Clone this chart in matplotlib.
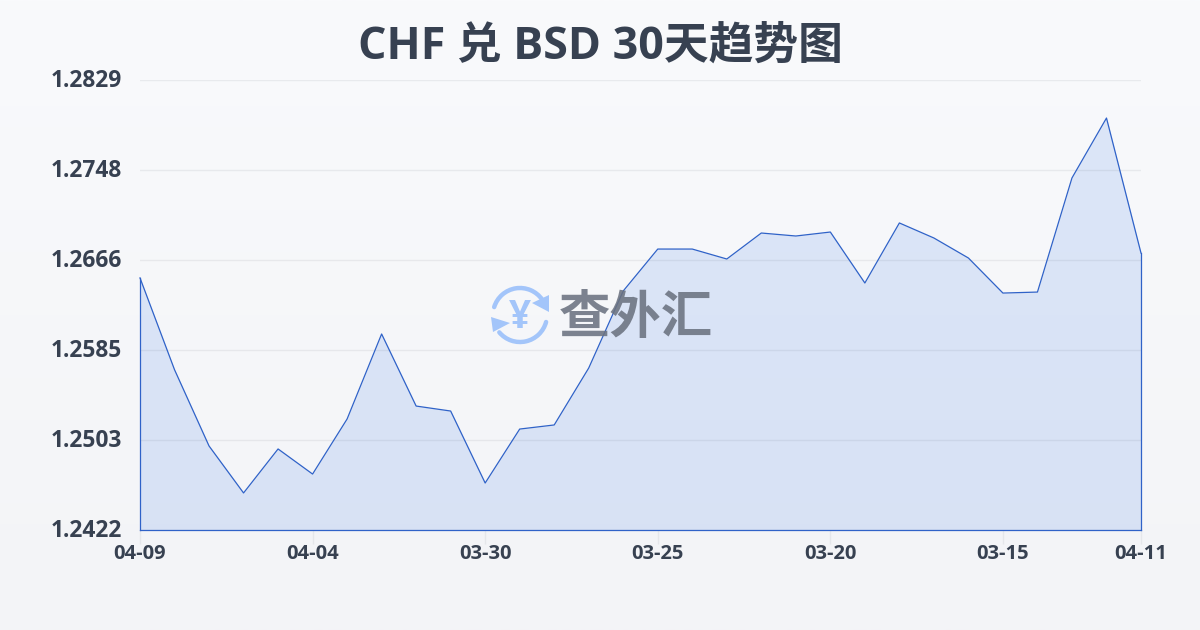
import numpy as np
import matplotlib
matplotlib.use("Agg")
import matplotlib.pyplot as plt
from matplotlib.patches import Arc, Polygon
from matplotlib.transforms import ScaledTranslation

plt.rcParams['font.family'] = ['Open Sans', 'Noto Sans CJK SC', 'DejaVu Sans']
plt.rcParams['font.weight'] = 'bold'

# datos
dias = ['04-09', '04-08', '04-07', '04-06', '04-05', '04-04', '04-03', '04-02', '04-01', '03-31',
        '03-30', '03-29', '03-28', '03-27', '03-26', '03-25', '03-24', '03-23', '03-22', '03-21',
        '03-20', '03-19', '03-18', '03-17', '03-16', '03-15', '03-14', '03-13', '03-12', '04-11']
valores = [1.26500, 1.25670, 1.24980, 1.24555, 1.24953, 1.24726, 1.25224, 1.25993, 1.25341, 1.25296,
           1.24645, 1.25133, 1.25170, 1.25685, 1.26382, 1.26761, 1.26761, 1.26671, 1.26906, 1.26879,
           1.26915, 1.26454, 1.26997, 1.26861, 1.26680, 1.26363, 1.26372, 1.27404, 1.27946, 1.26725]
y_labels = ['1.2422', '1.2503', '1.2585', '1.2666', '1.2748', '1.2829']
y_min = 1.2422
y_max = 1.2829

TEXTO = '#374151'
LINHA = '#2f62c8'

fig = plt.figure(figsize=(12, 6.3), dpi=100)

# fundo em gradiente
fundo = fig.add_axes([0, 0, 1, 1], zorder=0)
grad = np.linspace(0, 1, 256).reshape(-1, 1)
cmap_fundo = matplotlib.colors.LinearSegmentedColormap.from_list('fundo', ['#f9fafc', '#f3f4f7'])
fundo.imshow(grad, aspect='auto', cmap=cmap_fundo, extent=[0, 1, 0, 1])
fundo.axis('off')

# grafico principal
ax = fig.add_axes([140 / 1200, 1 - 530 / 630, 1001 / 1200, 450 / 630], zorder=1)
ax.patch.set_alpha(0)
x = np.arange(len(valores))
ax.set_xlim(0, len(valores) - 1)
ax.set_ylim(y_min, y_max)

ticks_y = np.linspace(y_min, y_max, len(y_labels))
ax.set_yticks(ticks_y)
ax.set_yticklabels(y_labels, fontsize=16.4, fontweight='bold', color=TEXTO)
ticks_x = list(range(0, len(dias), 5)) + [len(dias) - 1]
ax.set_xticks(ticks_x)
ax.set_xticklabels([dias[i] for i in ticks_x], fontsize=14.5, fontweight='bold', color=TEXTO)
ax.tick_params(axis='y', length=0, pad=13)
ax.tick_params(axis='x', length=10, width=1, color='#e5e7eb', pad=0)
# sobe os rotulos do eixo y 2 px
sobe = ScaledTranslation(0, 2 / 100, fig.dpi_scale_trans)
for lab in ax.get_yticklabels():
    lab.set_transform(lab.get_transform() + sobe)
for s in ax.spines.values():
    s.set_visible(False)
ax.grid(axis='y', color='#374151', alpha=0.08, linewidth=1, zorder=2)
ax.set_axisbelow(False)

ax.fill_between(x, valores, y_min, color='#3b7ae6', alpha=0.15, linewidth=0, zorder=1)
ax.plot(x, valores, color=LINHA, linewidth=0.9, zorder=6, clip_on=False)
ax.plot([0, 0], [y_min, valores[0]], color=LINHA, linewidth=0.9, zorder=6, clip_on=False)
ax.plot([x[-1], x[-1]], [y_min, valores[-1]], color=LINHA, linewidth=0.9, zorder=6, clip_on=False)
ax.plot([0, x[-1]], [y_min, y_min], color=LINHA, linewidth=0.9, zorder=6, clip_on=False)

# titulo
fig.text(0.5, 1 - 47 / 630, 'CHF 兑 BSD 30天趋势图', fontsize=32.2, fontweight='bold', color=TEXTO,
         ha='center', va='center', zorder=5)

# marca d'agua em coordenadas de pixel (eixo y invertido)
wm = fig.add_axes([0, 0, 1, 1], zorder=2)
wm.set_xlim(0, 1200)
wm.set_ylim(630, 0)
wm.axis('off')
wm.patch.set_alpha(0)
AZUL = '#a3c5fa'
wm.add_patch(Arc((520, 315), 54, 54, theta1=197, theta2=325, color=AZUL, lw=3.2, capstyle='round'))
wm.add_patch(Arc((520, 315), 54, 54, theta1=15, theta2=140, color=AZUL, lw=3.2, capstyle='round'))
wm.add_patch(Polygon([[549, 295], [549, 312], [532, 303]], closed=True, color=AZUL, lw=0))
wm.add_patch(Polygon([[491, 317], [510, 323], [493, 332]], closed=True, color=AZUL, lw=0))
wm.text(520, 318, '¥', fontsize=28, fontweight='bold', color=AZUL, ha='center', va='center')
wm.text(636, 318, '查外汇', fontsize=37, fontweight='bold', color='#6b7280', alpha=0.88,
        ha='center', va='center', family=['Noto Sans CJK SC', 'DejaVu Sans'])

fig.savefig('out.png', dpi=100)
